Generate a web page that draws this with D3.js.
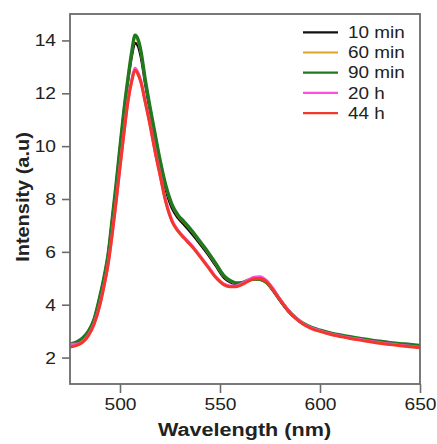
<!DOCTYPE html>
<html>
<head>
<meta charset="utf-8">
<script src="https://cdn.jsdelivr.net/npm/d3@7"></script>
<style>
  html, body { margin: 0; padding: 0; background: #fff; }
  svg { display: block; }
  text { font-family: "Liberation Sans", Arial, Helvetica, sans-serif; fill: #222; }
</style>
</head>
<body>
<svg id="chart" width="437" height="444"></svg>
<script>
const wavelength = [475,478,481,484,487,490,492,494,496,498,500,502,504,506,507.5,509,510.5,512.5,515,517.5,520,523,526,529,532,536,540,544,548,552,555,558,561,564,567,570,573,576,580,584,588,592,596,600,605,610,615,620,625,630,635,640,645,650];

const min10 = [2.50,2.56,2.70,2.95,3.42,4.30,5.00,5.85,7.12,8.45,9.9,11.3,12.45,13.45,13.9,13.78,13.35,12.4,11.3,10.3,9.3,8.32,7.65,7.28,7.03,6.68,6.3,5.9,5.46,5.02,4.86,4.79,4.82,4.9,4.96,4.95,4.84,4.58,4.15,3.76,3.47,3.26,3.12,3.02,2.92,2.84,2.77,2.71,2.65,2.60,2.55,2.51,2.48,2.44];
const min60 = [2.51,2.57,2.71,2.97,3.44,4.33,5.03,5.88,7.17,8.52,9.97,11.37,12.57,13.6,14.12,13.98,13.54,12.55,11.46,10.46,9.46,8.46,7.77,7.37,7.12,6.77,6.37,5.97,5.52,5.08,4.9,4.82,4.83,4.91,4.97,4.96,4.85,4.61,4.19,3.79,3.49,3.27,3.13,3.03,2.93,2.85,2.78,2.72,2.66,2.61,2.56,2.52,2.49,2.45];
const min90 = [2.52,2.58,2.72,2.98,3.45,4.35,5.05,5.90,7.20,8.55,10.0,11.4,12.6,13.65,14.2,14.05,13.6,12.6,11.5,10.5,9.5,8.5,7.8,7.4,7.15,6.8,6.4,6.0,5.55,5.1,4.92,4.83,4.84,4.92,4.98,4.97,4.86,4.62,4.2,3.8,3.5,3.28,3.14,3.04,2.94,2.86,2.79,2.73,2.67,2.62,2.57,2.53,2.50,2.46];
const h20 = [2.50,2.50,2.59,2.83,3.28,4.03,4.73,5.53,6.63,7.88,9.23,10.53,11.73,12.55,12.95,12.78,12.45,11.74,10.84,9.84,8.94,7.89,7.19,6.81,6.55,6.23,5.85,5.45,5.05,4.78,4.71,4.71,4.8,4.93,5.04,5.06,4.93,4.66,4.2,3.8,3.49,3.26,3.11,3.01,2.9,2.82,2.74,2.68,2.62,2.56,2.51,2.47,2.43,2.39];
const h44 = [2.40,2.45,2.56,2.80,3.25,4.00,4.70,5.50,6.60,7.85,9.2,10.5,11.7,12.5,12.87,12.72,12.4,11.7,10.8,9.8,8.9,7.85,7.15,6.78,6.52,6.2,5.82,5.42,5.02,4.75,4.68,4.68,4.76,4.88,4.98,4.99,4.88,4.62,4.18,3.78,3.47,3.24,3.09,2.99,2.88,2.80,2.72,2.66,2.60,2.54,2.49,2.45,2.41,2.37];

const seriesNames = ["10 min","60 min","90 min","20 h","44 h"];
const seriesValues = [min10, min60, min90, h20, h44];
const seriesColors = ["#111111","#e0a526","#1f7a1f","#ff4fe0","#f2382a"];
const seriesWidths = [2.6, 2.6, 3.2, 3, 3];

const xTicks = [500,550,600,650];
const yTicks = [2,4,6,8,10,12,14];
const xDomain = [475,650];
const yDomain = [1,15];

const svg = d3.select("#chart");
const L = 70, R = 420, T = 14, B = 384;

const x = d3.scaleLinear().domain(xDomain).range([L, R]);
const y = d3.scaleLinear().domain(yDomain).range([B, T]);

svg.append("defs").append("clipPath").attr("id","clip")
  .append("rect").attr("x", L).attr("y", T).attr("width", R-L).attr("height", B-T);

const axisColor = "#6b6b6b";

// axes
const xAxis = svg.append("g").attr("transform", `translate(0,${B})`)
  .call(d3.axisBottom(x).tickValues(xTicks).tickSize(9).tickPadding(5).tickFormat(d3.format("d")));
const yAxis = svg.append("g").attr("transform", `translate(${L},0)`)
  .call(d3.axisLeft(y).tickValues(yTicks).tickSize(8).tickPadding(6).tickFormat(d3.format("d")));
[xAxis, yAxis].forEach(g => {
  g.select(".domain").remove();
  g.selectAll(".tick line").attr("stroke", axisColor).attr("stroke-width", 1.6);
  g.selectAll(".tick text").attr("fill", "#222").style("font-size", "17px")
    .style("font-family", '"Liberation Sans", Arial, sans-serif');
});
xAxis.selectAll(".tick text").attr("dy", "0.71em");

// series lines
const line = d3.line().x((d, i) => x(wavelength[i])).y(d => y(d)).curve(d3.curveMonotoneX);
const plot = svg.append("g").attr("clip-path", "url(#clip)");
seriesValues.forEach((vals, k) => {
  plot.append("path").datum(vals)
    .attr("fill", "none")
    .attr("stroke", seriesColors[k])
    .attr("stroke-width", seriesWidths[k])
    .attr("stroke-linejoin", "round")
    .attr("stroke-linecap", "round")
    .attr("d", line);
});

// frame
svg.append("rect").attr("x", L).attr("y", T).attr("width", R-L).attr("height", B-T)
  .attr("fill", "none").attr("stroke", axisColor).attr("stroke-width", 1.8);

// legend
const legend = svg.append("g");
seriesNames.forEach((name, k) => {
  const yy = 32.3 + k * 20.2;
  legend.append("line").attr("x1", 303).attr("x2", 338).attr("y1", yy).attr("y2", yy)
    .attr("stroke", seriesColors[k]).attr("stroke-width", 2.2);
  legend.append("text").attr("class","leg").attr("x", 348).attr("y", yy + 5.6)
    .style("font-size", "16px").text(name);
});

// titles
svg.append("text").attr("class","xt").attr("x", 244.5).attr("y", 436)
  .attr("text-anchor", "middle").style("font-size", "18px").style("font-weight", "bold")
  .text("Wavelength (nm)");
svg.append("text").attr("class","yt").attr("transform", "translate(29,197) rotate(-90)")
  .attr("text-anchor", "middle").style("font-size", "19px").style("font-weight", "bold")
  .text("Intensity (a.u)");

// horizontal stretch to match the reference's wide glyphs
function stretch(sel, f) {
  sel.each(function() {
    const w = this.getComputedTextLength();
    d3.select(this).attr("textLength", w * f).attr("lengthAdjust", "spacingAndGlyphs");
  });
}
stretch(svg.selectAll(".tick text"), 1.13);
stretch(svg.selectAll("text.leg"), 1.18);
stretch(svg.selectAll("text.xt"), 1.2);
stretch(svg.selectAll("text.yt"), 1.05);
</script>
</body>
</html>
